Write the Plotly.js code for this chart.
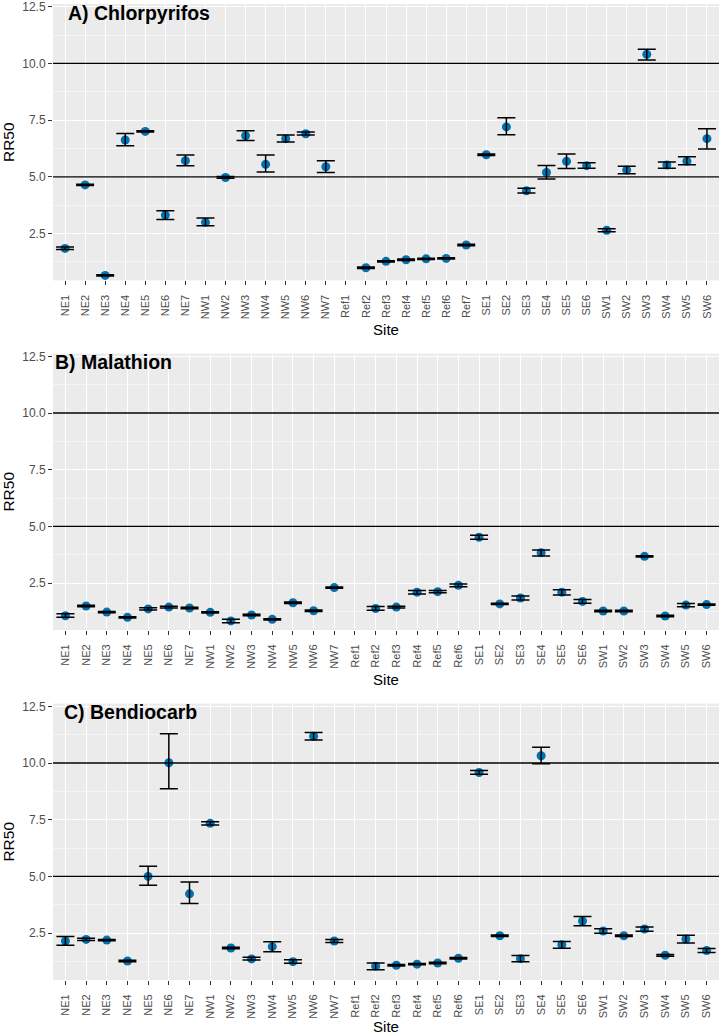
<!DOCTYPE html>
<html>
<head>
<meta charset="utf-8">
<script src="https://cdn.plot.ly/plotly-3.0.1.min.js"></script>
<style>html,body{margin:0;padding:0;background:#fff;}#chart{width:720px;height:1035px;}</style>
</head>
<body>
<div id="chart"></div>
<script>
// Panel A sites (Ref7 present)
const sitesA = ["NE1","NE2","NE3","NE4","NE5","NE6","NE7","NW1","NW2","NW3","NW4","NW5","NW6","NW7",
  "Ref1","Ref2","Ref3","Ref4","Ref5","Ref6","Ref7","SE1","SE2","SE3","SE4","SE5","SE6",
  "SW1","SW2","SW3","SW4","SW5","SW6"];
// Panels B and C sites (no Ref7)
const sitesBC = ["NE1","NE2","NE3","NE4","NE5","NE6","NE7","NW1","NW2","NW3","NW4","NW5","NW6","NW7",
  "Ref1","Ref2","Ref3","Ref4","Ref5","Ref6","SE1","SE2","SE3","SE4","SE5","SE6",
  "SW1","SW2","SW3","SW4","SW5","SW6"];

// A) Chlorpyrifos
const chlorValue = [1.84,4.64,0.65,6.62,7.00,3.31,5.71,2.99,4.97,6.81,5.55,6.68,6.90,5.44,
  null,0.99,1.27,1.34,1.38,1.40,1.99,5.97,7.20,4.38,5.19,5.68,5.49,2.64,5.30,10.40,5.52,5.69,6.68];
const chlorUpper = [1.90,4.67,0.68,6.91,7.03,3.50,5.96,3.18,5.01,7.03,5.96,6.84,6.97,5.71,
  null,1.02,1.30,1.37,1.41,1.43,2.02,6.00,7.60,4.49,5.50,6.01,5.62,2.71,5.46,10.62,5.65,5.88,7.12];
const chlorLower = [1.79,4.61,0.62,6.37,6.97,3.12,5.49,2.84,4.93,6.60,5.21,6.53,6.84,5.19,
  null,0.96,1.24,1.31,1.35,1.37,1.96,5.94,6.85,4.28,4.90,5.37,5.38,2.58,5.13,10.15,5.38,5.53,6.23];

// B) Malathion
const malValue = [1.06,1.49,1.22,0.99,1.36,1.44,1.40,1.21,0.83,1.09,0.90,1.63,1.28,2.30,
  null,1.38,1.44,2.10,2.12,2.40,4.52,1.58,1.84,3.84,2.10,1.69,1.27,1.27,3.68,1.05,1.53,1.55];
const malUpper = [1.15,1.52,1.25,1.02,1.41,1.48,1.43,1.24,0.90,1.12,0.93,1.66,1.31,2.33,
  null,1.47,1.48,2.17,2.17,2.46,4.61,1.61,1.93,3.96,2.21,1.77,1.30,1.30,3.71,1.08,1.60,1.58];
const malLower = [0.99,1.46,1.19,0.96,1.31,1.40,1.37,1.18,0.75,1.06,0.87,1.60,1.25,2.27,
  null,1.30,1.40,2.02,2.07,2.34,4.43,1.55,1.75,3.69,1.97,1.61,1.24,1.24,3.65,1.02,1.46,1.52];

// C) Bendiocarb
const benValue = [2.15,2.22,2.19,1.27,5.00,10.01,4.23,7.34,1.84,1.36,1.90,1.24,11.18,2.15,
  null,1.04,1.08,1.13,1.18,1.39,9.58,2.38,1.37,10.32,1.99,3.03,2.59,2.38,2.68,1.52,2.24,1.73];
const benUpper = [2.35,2.27,2.22,1.30,5.45,11.29,4.75,7.41,1.87,1.43,2.12,1.32,11.35,2.22,
  null,1.18,1.11,1.16,1.21,1.42,9.67,2.41,1.51,10.70,2.13,3.23,2.69,2.41,2.77,1.56,2.40,1.82];
const benLower = [1.96,2.17,2.16,1.24,4.61,8.87,3.80,7.27,1.81,1.31,1.68,1.17,11.02,2.08,
  null,0.88,1.05,1.10,1.15,1.36,9.50,2.35,1.24,9.97,1.83,2.82,2.49,2.35,2.58,1.48,2.06,1.64];

const panelTitles = ["A) Chlorpyrifos","B) Malathion","C) Bendiocarb"];
const yTickVals = [2.5,5.0,7.5,10.0,12.5];
const yTickText = ["2.5","5.0","7.5","10.0","12.5"];
const refLines = [5, 10];

const panels = [
  {s: sitesA, v: chlorValue, u: chlorUpper, l: chlorLower},
  {s: sitesBC, v: malValue, u: malUpper, l: malLower},
  {s: sitesBC, v: benValue, u: benUpper, l: benLower}
];

const FONT = "Liberation Sans, Arial, Helvetica, sans-serif";
const domains = [[0.7168,1],[0.3586,0.6418],[0,0.2832]];
const titlePos = [{x:0.0195,y:0.9908},{x:0.0,y:0.6332},{x:0.0135,y:0.2746}];

const traces = [];
const layout = {
  width:720, height:1035,
  margin:{l:53, r:1, t:4, b:55},
  paper_bgcolor:"#ffffff",
  plot_bgcolor:"#EBEBEB",
  showlegend:false,
  font:{family:FONT, color:"#000"},
  annotations:[], shapes:[]
};

panels.forEach((p, i) => {
  const sfx = i === 0 ? "" : String(i+1);
  const xa = "x" + sfx, ya = "y" + sfx;
  // keep only sites that have a measurement
  const idx = p.v.map((v,k)=>k).filter(k => p.v[k] != null);
  const xs = idx.map(k => p.s[k]);
  const ys = idx.map(k => p.v[k]);
  const plus = idx.map(k => +(p.u[k]-p.v[k]).toFixed(3));
  const minus = idx.map(k => +(p.v[k]-p.l[k]).toFixed(3));
  traces.push({
    type:"scatter", mode:"markers", x:xs, y:ys, xaxis:xa, yaxis:ya,
    marker:{color:"#0072B2", size:9}, hoverinfo:"x+y", cliponaxis:false
  });
  traces.push({
    type:"scatter", mode:"markers", x:xs, y:ys, xaxis:xa, yaxis:ya,
    marker:{color:"rgba(0,0,0,0)", size:1},
    error_y:{type:"data", symmetric:false, array:plus, arrayminus:minus,
      color:"#000000", thickness:1.5, width:9},
    hoverinfo:"skip"
  });
  layout["xaxis"+sfx] = {
    domain:[0,1], anchor:ya, type:"category",
    categoryorder:"array", categoryarray:p.s,
    tickmode:"array", tickvals:p.s, ticktext:p.s,
    range:[-0.6, p.s.length - 1 + 0.6], fixedrange:true,
    showgrid:true, gridcolor:"#ffffff", gridwidth:1,
    ticks:"outside", ticklen:4, tickcolor:"#333333", tickwidth:1,
    tickangle:-90, tickfont:{family:FONT, size:11, color:"#4D4D4D"},
    ticklabelstandoff:5,
    showline:false, zeroline:false,
    title:{text:"Site", font:{family:FONT, size:15, color:"#000"}, standoff:6}
  };
  layout["yaxis"+sfx] = {
    domain:domains[i], anchor:xa, range:[0.43, 12.62], fixedrange:true,
    tickmode:"array", tickvals:yTickVals, ticktext:yTickText,
    ticklabeloverflow:"allow",
    showgrid:true, gridcolor:"#ffffff", gridwidth:1,
    minor:{tickmode:"array", tickvals:[1.25,3.75,6.25,8.75,11.25], showgrid:true, gridcolor:"#ffffff", gridwidth:0.5, ticks:""},
    ticks:"outside", ticklen:4, tickcolor:"#333333", tickwidth:1,
    tickfont:{family:FONT, size:12, color:"#4D4D4D"},
    showline:false, zeroline:false,
    title:{text:"RR50", font:{family:FONT, size:15.5, color:"#000"}, standoff:7}
  };
  refLines.forEach(r => {
    layout.shapes.push({type:"line", xref:"paper", yref:ya, x0:0, x1:1, y0:r, y1:r,
      line:{color:"#000000", width:1.3}, layer:"above"});
  });
  layout.annotations.push({
    text:"<b>"+panelTitles[i]+"</b>", xref:"paper", yref:"paper",
    x:titlePos[i].x, y:titlePos[i].y, xanchor:"left", yanchor:"middle",
    showarrow:false, font:{family:FONT, size:19.5, color:"#000"}
  });
});

Plotly.newPlot("chart", traces, layout, {staticPlot:true, displayModeBar:false});
</script>
</body>
</html>
